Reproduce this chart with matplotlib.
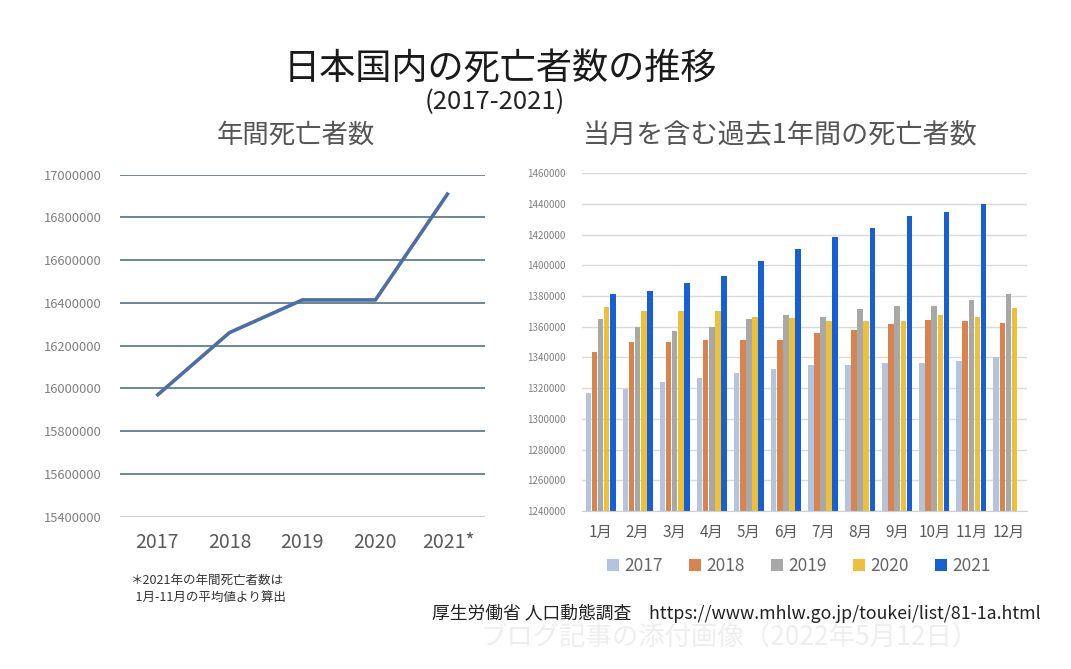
import matplotlib
matplotlib.use('Agg')
import numpy as np
import matplotlib.pyplot as plt
from matplotlib.patches import Patch

plt.rcParams['font.family'] = ['Noto Sans CJK JP', 'DejaVu Sans']

# 年間死亡者数 (left chart)
years = ['2017', '2018', '2019', '2020', '2021*']
annual = [15965000, 16261000, 16414000, 16414000, 16916000]

# 当月を含む過去1年間の死亡者数 (right chart)
months = ['1月', '2月', '3月', '4月', '5月', '6月', '7月', '8月', '9月', '10月', '11月', '12月']
series_names = ['2017', '2018', '2019', '2020', '2021']
d2017 = [1317000, 1319700, 1323800, 1326400, 1329700, 1332300, 1335100, 1335100, 1336200, 1336200, 1337900, 1340100]
d2018 = [1343600, 1350300, 1350300, 1351400, 1351400, 1351400, 1356000, 1357900, 1361600, 1364600, 1363600, 1362700]
d2019 = [1365100, 1360100, 1357100, 1360100, 1364900, 1367700, 1366600, 1371400, 1373400, 1373400, 1377300, 1381200]
d2020 = [1372900, 1370500, 1370500, 1370500, 1366600, 1365500, 1363600, 1363600, 1363600, 1367500, 1366400, 1372400]
d2021 = [1381400, 1383300, 1388300, 1393100, 1402900, 1410500, 1418300, 1424200, 1432000, 1435000, 1440000, np.nan]
colors = ['#b4c3de', '#d9834f', '#a8a8a8', '#ecc038', '#1660d4']

fig = plt.figure(figsize=(10.71, 6.69), dpi=100)

# titles
fig.text(0.467, 0.896, '日本国内の死亡者数の推移', ha='center', va='center', fontsize=26, color='#1a1a1a')
fig.text(0.462, 0.847, '(2017-2021)', ha='center', va='center', fontsize=18.5, color='#222222')
fig.text(0.276, 0.798, '年間死亡者数', ha='center', va='center', fontsize=19, color='#555555')
fig.text(0.729, 0.798, '当月を含む過去1年間の死亡者数', ha='center', va='center', fontsize=19.5, color='#555555')

# left: line chart
ax1 = fig.add_axes([0.1120, 0.2277, 0.3408, 0.5112])
ax1.plot(range(len(years)), annual, color='#4d6ea3', lw=2.6, solid_capstyle='butt')
ax1.set_xlim(-0.5, 4.5)
ax1.set_ylim(15400000, 17000000)
yt = np.arange(15400000, 17000001, 200000)
ax1.set_yticks(yt)
ax1.set_yticklabels([str(v) for v in yt])
for v in yt:
    c = '#c8ccce' if v == 15400000 else '#5f7d8c'
    ax1.axhline(v, color=c, lw=1.3, zorder=0)
ax1.set_xticks(range(len(years)))
ax1.set_xticklabels(years)
for s in ax1.spines.values():
    s.set_visible(False)
ax1.tick_params(axis='y', length=0, pad=13, labelsize=9.3, labelcolor='#808080')
ax1.tick_params(axis='x', length=0, pad=11, labelsize=14, labelcolor='#5a5a5a')

# right: grouped bars
ax2 = fig.add_axes([0.5434, 0.2362, 0.4155, 0.5048])
x = np.arange(len(months))
step = 0.165
width = 0.15
all_series = [d2017, d2018, d2019, d2020, d2021]
for i, (vals, col) in enumerate(zip(all_series, colors)):
    ax2.bar(x + (i - 2) * step, vals, width=width, color=col, zorder=2)
ax2.set_xlim(-0.5, 11.5)
ax2.set_ylim(1240000, 1460000)
yt2 = np.arange(1240000, 1460001, 20000)
ax2.set_yticks(yt2)
ax2.set_yticklabels([str(v) for v in yt2])
ax2.grid(axis='y', color='#d9d9d9', lw=1.0, zorder=0)
ax2.set_axisbelow(True)
ax2.set_xticks(x)
ax2.set_xticklabels(months)
for k, s in ax2.spines.items():
    s.set_visible(k == 'bottom')
ax2.spines['bottom'].set_color('#d0d0d0')
ax2.tick_params(axis='y', length=0, pad=12, labelsize=7, labelcolor='#808080')
ax2.tick_params(axis='x', length=0, pad=9, labelsize=11, labelcolor='#595959')

handles = [Patch(facecolor=c, edgecolor='none') for c in colors]
fig.legend(handles, series_names, loc='center', bbox_to_anchor=(0.746, 0.154), ncol=5,
           frameon=False, fontsize=12.5, handlelength=0.7, handleheight=0.7,
           handletextpad=0.3, columnspacing=1.5, labelcolor='#666666')

# notes
fig.text(0.121, 0.120, '＊2021年の年間死亡者数は\n  1月-11月の平均値より算出', ha='left', va='center',
         fontsize=9, color='#333333', linespacing=1.4)
fig.text(0.403, 0.083, '厚生労働省 人口動態調査　https://www.mhlw.go.jp/toukei/list/81-1a.html',
         ha='left', va='center', fontsize=12.8, color='#222222')
fig.text(0.681, 0.046, 'ブログ記事の添付画像（2022年5月12日）', ha='center', va='center',
         fontsize=19, color='#eeeeee')

fig.savefig('out.png', dpi=100)
